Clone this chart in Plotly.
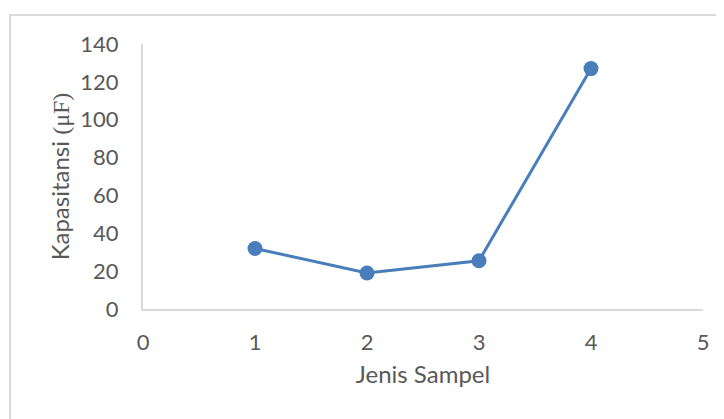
import plotly.graph_objects as go

sampel = [1, 2, 3, 4]
kapasitansi = [32, 19, 25.5, 127]
x_ticks = [0, 1, 2, 3, 4, 5]
y_ticks = [0, 20, 40, 60, 80, 100, 120, 140]

fig = go.Figure()
fig.add_trace(go.Scatter(
    x=sampel, y=kapasitansi, mode="lines+markers",
    line=dict(color="#4a7ebb", width=3),
    marker=dict(color="#4a7ebb", size=15),
    showlegend=False,
))

font = "Lato, 'Open Sans', sans-serif"
# page body has an 8px offset; figure sized to fill the rest of the window
L, T, R, B = 135, 36, 21, 110
W, H = 716, 411
pw, ph = W - L - R, H - T - B
fig.update_layout(
    width=W, height=H,
    margin=dict(l=L, r=R, t=T, b=B),
    paper_bgcolor="white", plot_bgcolor="white",
    font=dict(family=font, size=22, color="#595959"),
    shapes=[dict(type="rect", xref="paper", yref="paper",
                 x0=(2 - L) / pw, x1=1 + (R + 20) / pw,
                 y0=-(B + 20) / ph, y1=1 + (T - 7) / ph,
                 line=dict(color="#d9d9d9", width=2), layer="above")],
)
fig.update_xaxes(
    range=[0, 5], tickvals=x_ticks, showgrid=False, zeroline=False,
    showline=True, linecolor="#d9d9d9", linewidth=2,
    ticks="", ticklabelstandoff=13, automargin=False,
    title=dict(text="Jenis Sampel", font=dict(size=24, color="#595959"), standoff=12),
)
fig.update_yaxes(
    range=[0, 140], tickvals=y_ticks, showgrid=False, zeroline=False,
    showline=True, linecolor="#d9d9d9", linewidth=2,
    ticks="", ticklabelstandoff=18, automargin=False,
    title=dict(text="Kapasitansi <span style='font-family:Liberation Serif'>(μF)</span>",
               font=dict(size=24, color="#595959"), standoff=4),
)
fig.write_html("out.html")
